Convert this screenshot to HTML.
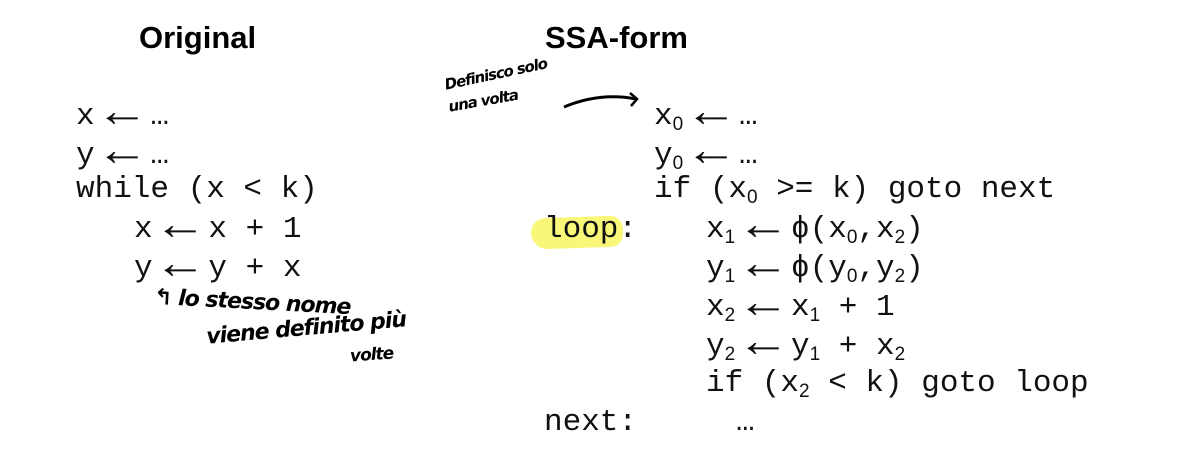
<!DOCTYPE html>
<html><head><meta charset="utf-8"><style>
body{margin:0;width:1204px;height:476px;background:#fff;position:relative;overflow:hidden}
.t{position:absolute;font-family:"Liberation Sans",sans-serif;font-weight:bold;font-size:31px;color:#000}
.c{position:absolute;font-family:"Courier New","Nimbus Mono PS","Liberation Mono",monospace;font-size:31px;line-height:34px;color:#111;white-space:pre}
.c sub{font-family:"Liberation Sans",sans-serif;font-size:19px;vertical-align:-6px;line-height:0}
.a{display:inline-block;transform:scale(1.7,1.5);transform-origin:center 60%}
.h{position:absolute;font-family:"DejaVu Sans",sans-serif;font-style:italic;color:#000;white-space:pre;font-weight:bold;letter-spacing:-1px}
</style></head><body>
<div class="t" style="left:139px;top:20px">Original</div>
<div class="t" style="left:545px;top:20px">SSA-form</div>
<div style="position:absolute;left:531px;top:217px;width:92px;height:31px;background:#f9f77a;border-radius:16px 14px 14px 18px;transform:rotate(-2deg)"></div>
<div class="c" style="left:76px;top:100px">x <span class="a">←</span> …</div>
<div class="c" style="left:76px;top:139px">y <span class="a">←</span> …</div>
<div class="c" style="left:76px;top:173px">while (x &lt; k)</div>
<div class="c" style="left:134px;top:213px">x <span class="a">←</span> x + 1</div>
<div class="c" style="left:134px;top:252px">y <span class="a">←</span> y + x</div>
<div class="c" style="left:654px;top:100px">x<sub>0</sub> <span class="a">←</span> …</div>
<div class="c" style="left:654px;top:139px">y<sub>0</sub> <span class="a">←</span> …</div>
<div class="c" style="left:654px;top:173px">if (x<sub>0</sub> &gt;= k) goto next</div>
<div class="c" style="left:544px;top:213px">loop:</div>
<div class="c" style="left:706px;top:213px">x<sub>1</sub> <span class="a">←</span> ϕ(x<sub>0</sub>,x<sub>2</sub>)</div>
<div class="c" style="left:706px;top:252px">y<sub>1</sub> <span class="a">←</span> ϕ(y<sub>0</sub>,y<sub>2</sub>)</div>
<div class="c" style="left:706px;top:291px">x<sub>2</sub> <span class="a">←</span> x<sub>1</sub> + 1</div>
<div class="c" style="left:706px;top:330px">y<sub>2</sub> <span class="a">←</span> y<sub>1</sub> + x<sub>2</sub></div>
<div class="c" style="left:706px;top:367px">if (x<sub>2</sub> &lt; k) goto loop</div>
<div class="c" style="left:544px;top:406px">next:</div>
<div class="c" style="left:736px;top:406px">…</div>
<div class="h" style="left:443px;top:76px;font-size:15px;transform:rotate(-12deg);transform-origin:left top">Definisco solo</div>
<div class="h" style="left:447px;top:98px;font-size:15px;transform:rotate(-10deg);transform-origin:left top">una volta</div>
<svg style="position:absolute;left:0;top:0" width="1204" height="476">
<path d="M564 107 Q600 92 636 99" stroke="#000" stroke-width="3" fill="none"/>
<path d="M630 93 L637 99 L631 106" stroke="#000" stroke-width="2.5" fill="none"/>
</svg>
<div class="h" style="left:154px;top:290px;font-size:22px;transform:rotate(3deg)">↰ lo stesso nome</div>
<div class="h" style="left:206px;top:316px;font-size:22px;transform:rotate(-5deg)">viene definito più</div>
<div class="h" style="left:350px;top:345px;font-size:17px;transform:rotate(-4deg)">volte</div>
</body></html>
